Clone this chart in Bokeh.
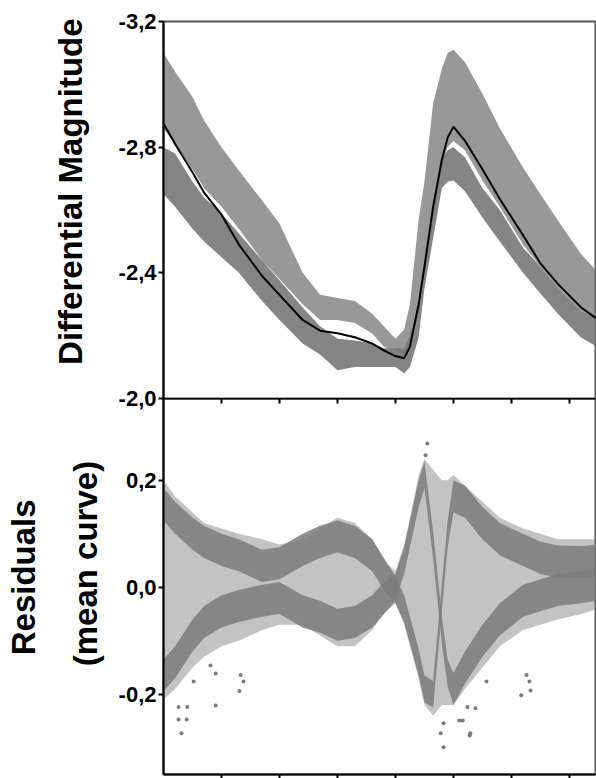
import numpy as np
from bokeh.plotting import figure
from bokeh.layouts import column
from bokeh.models import Range1d, FixedTicker, LinearAxis, CustomJSTickFormatter
from bokeh.embed import file_html
from bokeh.resources import INLINE

# Pulsation phase grid shared by every series
phase = [0.00, 0.02, 0.05, 0.07, 0.10, 0.13, 0.17, 0.20, 0.24, 0.27, 0.30, 0.33,
         0.36, 0.38, 0.40, 0.415, 0.425, 0.44, 0.45, 0.465, 0.48, 0.49, 0.50,
         0.52, 0.55, 0.58, 0.62, 0.65, 0.68, 0.72, 0.75]

# Mean light curve (differential magnitude)
mean_mag = [-2.875, -2.81, -2.72, -2.655, -2.585, -2.49, -2.39, -2.33, -2.25,
            -2.216, -2.208, -2.195, -2.175, -2.153, -2.135, -2.128, -2.165,
            -2.30, -2.42, -2.61, -2.76, -2.83, -2.865, -2.82, -2.73, -2.635,
            -2.52, -2.43, -2.365, -2.29, -2.25]

# Observed magnitudes: brighter sequence (edges) ...
upper_top = [-3.10, -3.04, -2.96, -2.885, -2.80, -2.726, -2.63, -2.557, -2.40,
             -2.33, -2.32, -2.31, -2.27, -2.23, -2.19, -2.22, -2.30, -2.57,
             -2.69, -2.94, -3.05, -3.10, -3.11, -3.07, -2.97, -2.86, -2.735,
             -2.65, -2.567, -2.46, -2.40]
upper_bot = [-2.86, -2.81, -2.73, -2.67, -2.61, -2.54, -2.44, -2.38, -2.30,
             -2.25, -2.25, -2.24, -2.207, -2.165, -2.15, -2.14, -2.17, -2.27,
             -2.38, -2.57, -2.74, -2.80, -2.82, -2.79, -2.694, -2.61, -2.49,
             -2.42, -2.353, -2.28, -2.25]
# ... and fainter sequence (edges)
lower_top = [-2.80, -2.78, -2.69, -2.64, -2.59, -2.525, -2.44, -2.376, -2.29,
             -2.23, -2.19, -2.185, -2.175, -2.16, -2.16, -2.16, -2.20, -2.30,
             -2.42, -2.62, -2.76, -2.79, -2.80, -2.767, -2.67, -2.60, -2.48,
             -2.42, -2.353, -2.28, -2.25]
lower_bot = [-2.65, -2.61, -2.54, -2.50, -2.45, -2.40, -2.31, -2.25, -2.175,
             -2.14, -2.09, -2.10, -2.10, -2.10, -2.10, -2.08, -2.10, -2.194,
             -2.35, -2.51, -2.67, -2.69, -2.694, -2.66, -2.576, -2.50, -2.40,
             -2.334, -2.27, -2.194, -2.162]

# Residual ridge A (mean curve minus observations): centre and half width
res_a = [0.155, 0.13, 0.10, 0.085, 0.07, 0.06, 0.04, 0.045, 0.07, 0.085, 0.095,
         0.085, 0.06, 0.025, -0.005, -0.04, -0.08, -0.14, -0.19, -0.20, -0.02,
         0.10, 0.17, 0.16, 0.12, 0.09, 0.07, 0.055, 0.048, 0.047, 0.05]
res_a_hw = [0.03, 0.03, 0.03, 0.03, 0.03, 0.03, 0.03, 0.03, 0.03, 0.03, 0.03,
            0.03, 0.03, 0.03, 0.025, 0.025, 0.025, 0.025, 0.025, 0.025, 0.025,
            0.025, 0.03, 0.03, 0.03, 0.03, 0.03, 0.03, 0.03, 0.03, 0.03]

# Residual ridge B
res_b = [-0.165, -0.14, -0.09, -0.065, -0.045, -0.035, -0.025, -0.02, -0.045,
         -0.055, -0.07, -0.065, -0.045, -0.02, 0.0, 0.05, 0.10, 0.175, 0.21,
         0.08, -0.08, -0.16, -0.19, -0.15, -0.10, -0.06, -0.025, -0.015,
         -0.005, 0.0, 0.005]
res_b_hw = [0.03, 0.03, 0.03, 0.03, 0.03, 0.03, 0.03, 0.03, 0.03, 0.03, 0.03,
            0.03, 0.03, 0.03, 0.025, 0.025, 0.025, 0.025, 0.025, 0.025, 0.025,
            0.025, 0.03, 0.03, 0.03, 0.03, 0.03, 0.03, 0.03, 0.03, 0.03]

# Envelope of the sparse residual scatter around the ridges
cloud_lo = [-0.21, -0.19, -0.15, -0.13, -0.11, -0.10, -0.08, -0.07, -0.07,
            -0.09, -0.11, -0.11, -0.08, -0.05, -0.03, -0.07, -0.11, -0.17,
            -0.22, -0.24, -0.22, -0.22, -0.22, -0.19, -0.15, -0.11, -0.08,
            -0.07, -0.06, -0.05, -0.04]
cloud_hi = [0.20, 0.17, 0.14, 0.12, 0.11, 0.10, 0.09, 0.08, 0.09, 0.11, 0.13,
            0.12, 0.09, 0.05, 0.03, 0.08, 0.13, 0.21, 0.24, 0.22, 0.20, 0.20,
            0.21, 0.19, 0.16, 0.13, 0.11, 0.10, 0.09, 0.09, 0.09]

# Isolated residual points
out_phase = [0.026, 0.041, 0.026, 0.040, 0.031, 0.052, 0.081, 0.090, 0.090,
             0.131, 0.133, 0.138, 0.478, 0.483, 0.483, 0.516, 0.524, 0.529,
             0.538, 0.510, 0.528, 0.557, 0.617, 0.626, 0.631, 0.633, 0.455,
             0.452]
out_res = [-0.224, -0.224, -0.247, -0.247, -0.273, -0.176, -0.146, -0.161,
           -0.221, -0.194, -0.164, -0.176, -0.273, -0.299, -0.254, -0.249,
           -0.224, -0.273, -0.226, -0.249, -0.277, -0.176, -0.202, -0.164,
           -0.176, -0.193, 0.269, 0.247]

mag_ticks = [-3.2, -2.8, -2.4, -2.0]
res_ticks = [-0.2, 0.0, 0.2]
phase_ticks = [0.1, 0.2, 0.3, 0.4, 0.5, 0.6, 0.7]

GREY = "#7b7b7b"
FONT = "Liberation Sans"
OVERLAP = 14  # px of the upper canvas shared with the lower one
NB = "\u00a0"  # leading no-break spaces lift the rotated labels a little

ph = np.array(phase)
ra, rah = np.array(res_a), np.array(res_a_hw)
rb, rbh = np.array(res_b), np.array(res_b_hw)

comma = CustomJSTickFormatter(code="return tick.toFixed(1).replace('.', ',');")
blank = CustomJSTickFormatter(code="return '';")


def style_y(ax, ticks, label, standoff):
    ax.ticker = FixedTicker(ticks=ticks)
    ax.formatter = comma
    ax.major_label_text_font = FONT
    ax.major_label_text_font_style = "bold"
    ax.major_label_text_font_size = "22px"
    ax.major_label_text_color = "black"
    ax.major_label_standoff = 2
    ax.major_tick_out = 5
    ax.major_tick_in = 0
    ax.major_tick_line_width = 2
    ax.minor_tick_line_color = None
    ax.axis_line_width = 2
    ax.axis_line_color = "black"
    ax.axis_label = label
    ax.axis_label_text_font = FONT
    ax.axis_label_text_font_style = "bold"
    ax.axis_label_text_font_size = "33px"
    ax.axis_label_text_color = "black"
    ax.axis_label_standoff = standoff


def style_x(ax, tick_in, tick_out):
    ax.ticker = FixedTicker(ticks=phase_ticks)
    ax.formatter = blank
    ax.major_label_text_font_size = "0px"
    ax.major_label_standoff = 0
    ax.major_tick_in = tick_in
    ax.major_tick_out = tick_out
    ax.major_tick_line_width = 2
    ax.minor_tick_line_color = None
    ax.axis_line_width = 2
    ax.axis_line_color = "black"


# Upper panel: light curve
p1 = figure(frame_width=432, frame_height=377, x_range=Range1d(0, 0.745),
            y_range=Range1d(-2.0, -3.2), x_axis_location=None,
            min_border_left=163, min_border_right=1, min_border_top=21,
            min_border_bottom=OVERLAP, output_backend="svg", toolbar_location=None)
p1.grid.visible = False
p1.outline_line_color = "#555555"
p1.outline_line_width = 2
style_y(p1.yaxis[0], mag_ticks, NB * 4 + "Differential Magnitude", 27)

p1.varea(x=ph, y1=upper_top, y2=upper_bot, fill_color=GREY, fill_alpha=0.78)
p1.varea(x=ph, y1=lower_top, y2=lower_bot, fill_color=GREY, fill_alpha=0.92)
p1.line(x=ph, y=mean_mag, line_color="black", line_width=2)

# Lower panel: residuals from the mean curve
p2 = figure(frame_width=432, frame_height=376, x_range=p1.x_range,
            y_range=Range1d(-0.35, 0.353), x_axis_location="below",
            min_border_left=163, min_border_right=1, min_border_top=0,
            min_border_bottom=0, output_backend="svg", toolbar_location=None)
p2.grid.visible = False
p2.outline_line_color = "#555555"
p2.outline_line_width = 2
p2.border_fill_color = None
p2.styles = {"margin-top": f"-{OVERLAP}px"}
style_y(p2.yaxis[0], res_ticks, NB * 5 + "(mean curve)", 12)
style_x(p2.xaxis[0], 0, 4)

top_axis = LinearAxis()
style_x(top_axis, 5, 0)
p2.add_layout(top_axis, "above")

outer = LinearAxis(ticker=FixedTicker(ticks=[]), formatter=blank,
                   axis_line_color=None, major_tick_line_color=None,
                   minor_tick_line_color=None, major_label_text_font_size="0px",
                   axis_label=NB * 2 + "Residuals", axis_label_text_font=FONT,
                   axis_label_text_font_style="bold",
                   axis_label_text_font_size="33px",
                   axis_label_text_color="black", axis_label_standoff=22)
p2.add_layout(outer, "left")

p2.varea(x=ph, y1=cloud_lo, y2=cloud_hi, fill_color=GREY, fill_alpha=0.45)
p2.varea(x=ph, y1=ra - rah, y2=ra + rah, fill_color=GREY, fill_alpha=0.85)
p2.varea(x=ph, y1=rb - rbh, y2=rb + rbh, fill_color=GREY, fill_alpha=0.85)
p2.scatter(x=out_phase, y=out_res, size=4, fill_color=GREY, line_color=None)

layout = column(p1, p2, spacing=0)
open("out.html", "w").write(file_html(layout, INLINE))
